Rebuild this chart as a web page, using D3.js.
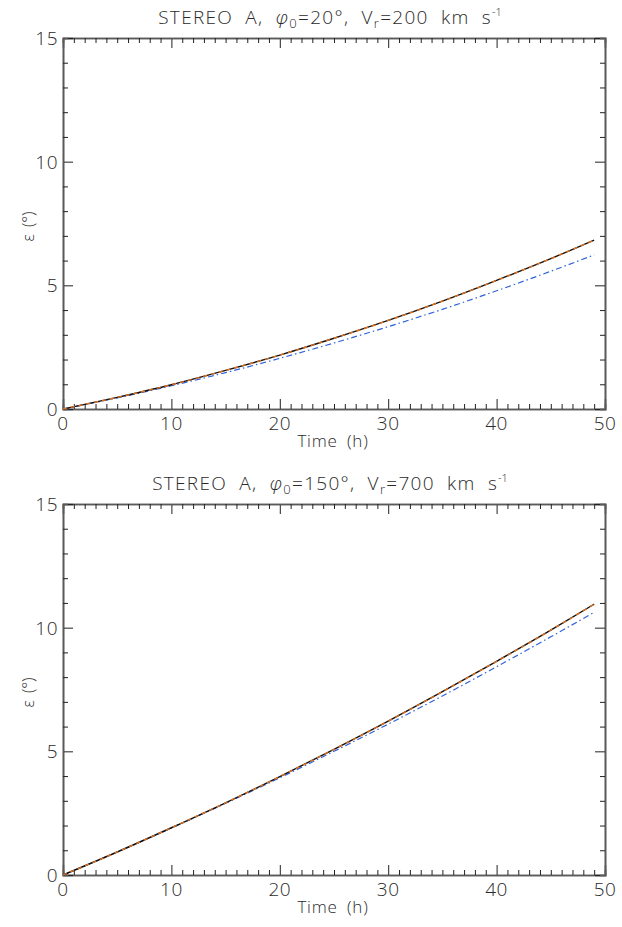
<!DOCTYPE html>
<html>
<head>
<meta charset="utf-8">
<script src="https://cdn.jsdelivr.net/npm/d3@7"></script>
<style>
  html, body { margin: 0; padding: 0; background: #fff; }
  svg text { font-family: "Open Sans", "DejaVu Sans", sans-serif; font-weight: 300; fill: #2a2a2a; }
</style>
</head>
<body>
<svg id="chart" width="622" height="927"></svg>
<script>
// Sampling times (hours)
const times = [0, 5, 10, 15, 20, 25, 30, 35, 40, 45, 49];

// Panel 1: phi0 = 20 deg, Vr = 200 km/s
const epsTopSolid   = [0, 0.47, 0.98, 1.56, 2.18, 2.86, 3.58, 4.36, 5.20, 6.08, 6.83];
const epsTopDashed  = [0, 0.47, 0.98, 1.56, 2.18, 2.86, 3.58, 4.36, 5.20, 6.08, 6.83];
const epsTopDashDot = [0, 0.45, 0.94, 1.47, 2.05, 2.67, 3.33, 4.03, 4.78, 5.57, 6.23];

// Panel 2: phi0 = 150 deg, Vr = 700 km/s
const epsBotSolid   = [0, 0.93, 1.91, 2.92, 3.98, 5.08, 6.22, 7.41, 8.64, 9.90, 10.95];
const epsBotDashed  = [0, 0.93, 1.91, 2.92, 3.98, 5.08, 6.22, 7.41, 8.64, 9.90, 10.95];
const epsBotDashDot = [0, 0.93, 1.90, 2.90, 3.93, 5.00, 6.10, 7.24, 8.42, 9.63, 10.62];

const xTicks = [0, 10, 20, 30, 40, 50];
const yTicks = [0, 5, 10, 15];

const panels = [
  { top: 38, bottom: 409, phi: "20", vr: "200",
    solid: epsTopSolid, dashed: epsTopDashed, dashdot: epsTopDashDot },
  { top: 504, bottom: 875, phi: "150", vr: "700",
    solid: epsBotSolid, dashed: epsBotDashed, dashdot: epsBotDashDot }
];

const svg = d3.select("#chart");
const left = 63, right = 605;
const axisColor = "#5a5a5a";

panels.forEach(p => {
  const x = d3.scaleLinear().domain([0, 50]).range([left, right]);
  const y = d3.scaleLinear().domain([0, 15]).range([p.bottom, p.top]);
  const g = svg.append("g");

  // Frame ticks: major inward ticks on all four sides, minor ticks between
  const xMinor = d3.range(0, 51, 1).filter(v => v % 10 !== 0);
  const yMinor = d3.range(0, 16, 1).filter(v => v % 5 !== 0);

  const frame = [
    [d3.axisTop(x).tickValues(xTicks).tickSize(10), `translate(0,${p.bottom})`],
    [d3.axisTop(x).tickValues(xMinor).tickSize(5), `translate(0,${p.bottom})`],
    [d3.axisBottom(x).tickValues(xTicks).tickSize(10), `translate(0,${p.top})`],
    [d3.axisBottom(x).tickValues(xMinor).tickSize(5), `translate(0,${p.top})`],
    [d3.axisRight(y).tickValues(yTicks).tickSize(10), `translate(${left},0)`],
    [d3.axisRight(y).tickValues(yMinor).tickSize(5), `translate(${left},0)`],
    [d3.axisLeft(y).tickValues(yTicks).tickSize(10), `translate(${right},0)`],
    [d3.axisLeft(y).tickValues(yMinor).tickSize(5), `translate(${right},0)`]
  ];
  frame.forEach(([ax, tr]) => {
    const a = g.append("g").attr("transform", tr).call(ax.tickFormat(""));
    a.select(".domain").attr("stroke", axisColor).attr("stroke-width", 1.6);
    a.selectAll(".tick line").attr("stroke", "#222").attr("stroke-width", 1);
  });

  // Tick labels
  g.selectAll(".xl").data(xTicks).enter().append("text")
    .attr("x", d => x(d)).attr("y", p.bottom + 21)
    .attr("text-anchor", "middle").attr("font-size", 19)
    .attr("letter-spacing", 0.5).text(d => d);
  g.selectAll(".yl").data(yTicks).enter().append("text")
    .attr("x", left - 5).attr("y", d => y(d) + 7)
    .attr("text-anchor", "end").attr("font-size", 19)
    .attr("letter-spacing", 0.5).text(d => d);

  // Axis titles
  g.append("text").attr("x", (left + right) / 2 - 1).attr("y", p.bottom + 38)
    .attr("text-anchor", "middle").attr("font-size", 17)
    .attr("letter-spacing", 0.8).attr("word-spacing", 4).text("Time (h)");
  g.append("text")
    .attr("transform", `translate(34,${(p.top + p.bottom) / 2 + 3}) rotate(-90)`)
    .attr("text-anchor", "middle").attr("font-size", 16)
    .attr("word-spacing", 3).text("\u03b5 (\u00b0)");

  // Panel title
  const t = g.append("text").attr("x", (left + right) / 2 - 4).attr("y", p.top - 14)
    .attr("text-anchor", "middle").attr("font-size", 19)
    .attr("letter-spacing", 1.3).attr("word-spacing", 6);
  t.append("tspan").text("STEREO A, ");
  t.append("tspan").attr("font-style", "italic").text("\u03c6");
  t.append("tspan").attr("font-size", 13).attr("dy", 4).text("0");
  t.append("tspan").attr("dy", -4).text(`=${p.phi}\u00b0, V`);
  t.append("tspan").attr("font-size", 13).attr("dy", 4).text("r");
  t.append("tspan").attr("dy", -4).text(`=${p.vr} km s`);
  t.append("tspan").attr("font-size", 11).attr("dy", -8).attr("letter-spacing", 0).text("-1");

  // Curves
  const line = vals => d3.line()
    .x((d, i) => x(times[i])).y(d => y(d))
    .curve(d3.curveMonotoneX)(vals);

  g.append("path").attr("d", line(p.dashdot)).attr("fill", "none")
    .attr("stroke", "#2f62dc").attr("stroke-width", 1.2)
    .attr("stroke-dasharray", "6,3,1.5,3");
  g.append("path").attr("d", line(p.solid)).attr("fill", "none")
    .attr("stroke", "#111").attr("stroke-width", 1.4);
  g.append("path").attr("d", line(p.dashed)).attr("fill", "none")
    .attr("stroke", "#e0701e").attr("stroke-width", 1.4)
    .attr("stroke-dasharray", "4,4");
});
</script>
</body>
</html>
